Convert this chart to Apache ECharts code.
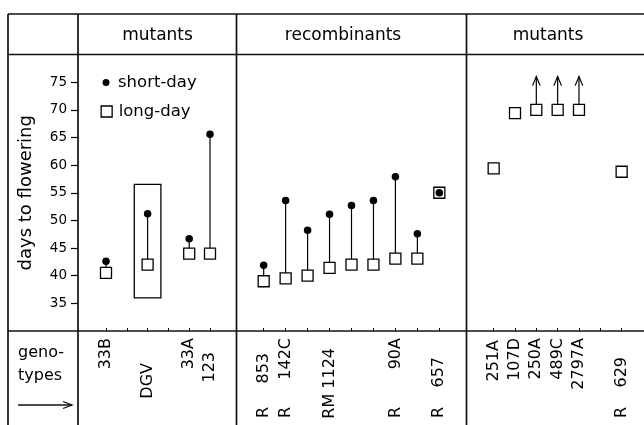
<!DOCTYPE html>
<html><head><meta charset="utf-8">
<script src="https://cdn.jsdelivr.net/npm/echarts@6/dist/echarts.min.js"></script>
<style>html,body{margin:0;padding:0;background:#fff}#c{width:644px;height:425px}</style>
</head><body><div id="c"></div>
<script>
// ---------------- data ----------------
const groupNames = ['mutants', 'recombinants', 'mutants'];
const yTickLabels = [35, 40, 45, 50, 55, 60, 65, 70, 75];
const seriesNames = ['short-day', 'long-day'];

// mutants (left panel); '' = empty slot
const mutantsA = ['33B', '', 'DGV', '', '33A', '123'];
const mutantsAShort = [42.6, null, 51.2, null, 46.7, 65.6];
const mutantsALong  = [40.5, null, 42.0, null, 44.0, 44.0];
const boxedGenotype = 'DGV';
const boxRange = [56.5, 36.0];

// recombinants (middle panel)
const recomb      = ['853', '142C', '', 'RM 1124', '', '', '90A', '', '657'];
const recombR     = ['R', 'R', '', '', '', '', 'R', '', 'R'];
const recombShort = [41.9, 53.6, 48.2, 51.1, 52.7, 53.6, 57.9, 47.6, 55.0];
const recombLong  = [39.0, 39.5, 40.0, 41.4, 42.0, 42.0, 43.1, 43.1, 55.0];

// mutants (right panel)
const mutantsB     = ['251A', '107D', '250A', '489C', '2797A', '', '629'];
const mutantsBR    = ['', '', '', '', '', '', 'R'];
const mutantsBLong = [59.4, 69.4, 70.0, 70.0, 70.0, null, 58.8];
const arrowTip     = [null, null, 76.0, 76.0, 76.0, null, null];

// ---------------- layout (not data) ----------------
const labelDropA = [0, 0, 25, 0, 0, 14];
const labelDropR = [15, 0, 0, 10, 0, 0, 0, 0, 19];
const labelDropB = [2, 0, 0, 0, 0, 0, 19];
const FONT = 'DejaVu Sans';
const INK = '#000';

const panels = [
  {cats: mutantsA, short: mutantsAShort, long: mutantsALong, R: null, drop: labelDropA, left: 95.6, width: 124.8},
  {cats: recomb, short: recombShort, long: recombLong, R: recombR, drop: labelDropR, left: 252.7, width: 197.6},
  {cats: mutantsB, short: null, long: mutantsBLong, R: mutantsBR, drop: labelDropB, left: 483, width: 149.3}
];

const grid = [], xAxis = [], yAxis = [], series = [];
const rich = {};
panels.forEach(p => p.drop.forEach(d => {
  rich['d' + d] = {padding: [0, d, 0, 0], fontSize: 16, fontFamily: FONT, color: INK};
}));

panels.forEach((p, gi) => {
  grid.push({left: p.left, width: p.width, top: 54.5, bottom: 94, containLabel: false, outerBoundsMode: 'none'});
  const xi = xAxis.length;
  xAxis.push({
    type: 'category', gridIndex: gi, data: p.cats, boundaryGap: true, position: 'bottom',
    axisLine: {show: false},
    axisTick: {show: true, inside: true, length: 3, alignWithLabel: true, lineStyle: {color: INK, width: 1}},
    axisLabel: {rotate: 90, margin: 7, interval: 0, fontSize: 16, fontFamily: FONT, color: INK, rich: rich,
      formatter: (v, i) => v ? '{d' + p.drop[i] + '|' + v + '}' : ''},
    splitLine: {show: false}
  });
  if (p.R) {
    xAxis.push({
      type: 'category', gridIndex: gi, data: p.cats, boundaryGap: true, position: 'bottom',
      axisLine: {show: false}, axisTick: {show: false}, splitLine: {show: false},
      axisLabel: {rotate: 90, margin: 76, interval: 0, fontSize: 16, fontFamily: FONT, color: INK,
        formatter: (v, i) => p.R[i]}
    });
  }
  const yi = yAxis.length;
  if (gi === 0) {
    yAxis.push({
      type: 'value', gridIndex: gi, min: 30, max: 80, offset: p.left - 78,
      axisLine: {show: false},
      axisTick: {show: true, length: 7, customValues: yTickLabels, lineStyle: {color: INK, width: 1.2}},
      axisLabel: {show: true, customValues: yTickLabels, margin: 11, fontSize: 13.5, fontFamily: FONT, color: INK},
      splitLine: {show: false},
      name: 'days to flowering', nameLocation: 'middle', nameGap: 43, nameRotate: 90,
      nameTextStyle: {fontSize: 18, fontFamily: FONT, color: INK}
    });
  } else {
    yAxis.push({type: 'value', gridIndex: gi, min: 30, max: 80, show: false, splitLine: {show: false}});
  }

  const pairs = [];
  p.cats.forEach((c, i) => {
    if (p.short && p.short[i] != null && p.long[i] != null) pairs.push([i, p.short[i], p.long[i]]);
  });
  if (pairs.length) {
    series.push({
      type: 'custom', xAxisIndex: xi, yAxisIndex: yi, z: 1, silent: true, encode: {x: 0, y: [1, 2]},
      data: pairs,
      renderItem: (params, api) => {
        const a = api.coord([api.value(0), api.value(1)]);
        const b = api.coord([api.value(0), api.value(2)]);
        return {type: 'line', shape: {x1: a[0], y1: a[1], x2: b[0], y2: b[1]}, style: {stroke: INK, lineWidth: 1.2}};
      }
    });
  }
  if (gi === 0) {
    const bi = p.cats.indexOf(boxedGenotype);
    series.push({
      type: 'custom', xAxisIndex: xi, yAxisIndex: yi, z: 1, silent: true, encode: {x: 0, y: [1, 2]},
      data: [[bi, boxRange[0], boxRange[1]]],
      renderItem: (params, api) => {
        const t = api.coord([api.value(0), api.value(1)]);
        const b = api.coord([api.value(0), api.value(2)]);
        const w = api.size([1, 0])[0] * 1.28;
        return {type: 'rect', shape: {x: t[0] - w / 2, y: t[1], width: w, height: b[1] - t[1]},
          style: {fill: 'none', stroke: INK, lineWidth: 1.3}};
      }
    });
  }
  if (gi === 2) {
    const arr = [];
    p.cats.forEach((c, i) => { if (arrowTip[i] != null) arr.push([i, p.long[i], arrowTip[i]]); });
    series.push({
      type: 'custom', xAxisIndex: xi, yAxisIndex: yi, z: 1, silent: true, encode: {x: 0, y: [1, 2]},
      data: arr,
      renderItem: (params, api) => {
        const a = api.coord([api.value(0), api.value(1)]);
        const t = api.coord([api.value(0), api.value(2)]);
        return {type: 'group', children: [
          {type: 'line', shape: {x1: a[0], y1: a[1], x2: t[0], y2: t[1]}, style: {stroke: INK, lineWidth: 1.2}},
          {type: 'polyline', shape: {points: [[t[0] - 3.8, t[1] + 9], [t[0], t[1]], [t[0] + 3.8, t[1] + 9]]},
            style: {stroke: INK, lineWidth: 1.2, fill: 'none'}}
        ]};
      }
    });
  }
  const longData = [];
  p.long.forEach((v, i) => { if (v != null) longData.push([i, v]); });
  series.push({
    name: seriesNames[1], type: 'scatter', xAxisIndex: xi, yAxisIndex: yi, z: 3, silent: true,
    symbol: 'rect', symbolSize: 11, data: longData,
    itemStyle: {color: '#fff', borderColor: INK, borderWidth: 1.3, opacity: 1}
  });
  if (p.short) {
    const shortData = [];
    p.short.forEach((v, i) => { if (v != null) shortData.push([i, v]); });
    series.push({
      name: seriesNames[0], type: 'scatter', xAxisIndex: xi, yAxisIndex: yi, z: 4, silent: true,
      symbol: 'circle', symbolSize: 7.5, data: shortData,
      itemStyle: {color: INK, opacity: 1}
    });
  }
});

// table frame & texts
const L = 8, C1 = 78, C2 = 236.5, C3 = 466.5, R = 644, T = 14, H = 54.5, B = 331, BOT = 425;
const ln = (x1, y1, x2, y2, lw) => ({type: 'line', silent: true, shape: {x1, y1, x2, y2}, style: {stroke: '#111', lineWidth: lw || 1.7}});
const txt = (text, x, y, size, align) => ({type: 'text', silent: true, x: x, y: y,
  style: {text: text, fontSize: size, fontFamily: FONT, fill: INK, align: align || 'center', verticalAlign: 'middle'}});
const graphic = [
  ln(L, T, R, T), ln(L, H, R, H), ln(L, B, R, B),
  ln(L, T, L, BOT), ln(C1, T, C1, BOT), ln(C2, T, C2, BOT), ln(C3, T, C3, BOT),
  txt(groupNames[0], 157.5, 36, 17), txt(groupNames[1], 343, 36, 17), txt(groupNames[2], 548, 36, 17),
  txt('geno-', 18, 353, 16, 'left'), txt('types', 18, 376, 16, 'left'),
  ln(18, 405, 72, 405, 1.3),
  {type: 'polyline', silent: true, shape: {points: [[63, 401.5], [72, 405], [63, 408.5]]}, style: {stroke: '#111', lineWidth: 1.3, fill: 'none'}}
];

const chart = echarts.init(document.getElementById('c'), null, {renderer: 'canvas'});
chart.setOption({
  animation: false,
  backgroundColor: '#fff',
  grid: grid, xAxis: xAxis, yAxis: yAxis, series: series,
  legend: [
    {data: [seriesNames[0]], orient: 'vertical', left: 102.5, top: 74, padding: 0, itemWidth: 7, itemHeight: 7,
      icon: 'circle', selectedMode: false,
      textStyle: {fontSize: 16.5, lineHeight: 16, fontFamily: FONT, color: INK, padding: [0, 0, 0, 3.5]}},
    {data: [seriesNames[1]], orient: 'vertical', left: 100.5, top: 103, padding: 0, itemWidth: 11, itemHeight: 11,
      selectedMode: false, itemStyle: {color: '#fff', borderColor: INK, borderWidth: 1.3},
      textStyle: {fontSize: 16.5, lineHeight: 16, fontFamily: FONT, color: INK, padding: [0, 0, 0, 1.5]}}
  ],
  graphic: graphic
});
</script></body></html>
